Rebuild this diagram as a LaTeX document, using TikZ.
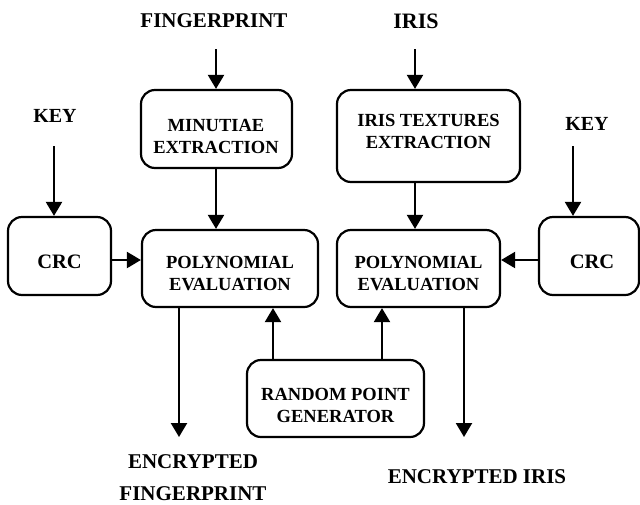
\documentclass[tikz,border=0pt]{standalone}
\usepackage{fontspec}
\setmainfont{Liberation Serif}
\usetikzlibrary{arrows.meta}
\tikzset{
  box/.style={draw, line width=2.2pt, rounded corners=14pt, inner sep=0pt},
  arr/.style={line width=2.2pt, -{Triangle[length=14pt,width=16pt]}},
  lbl/.style={font=\bfseries\fontsize{21}{32}\selectfont, inner sep=0pt, align=center},
  btxt/.style={font=\bfseries\fontsize{18.5}{22}\selectfont, inner sep=0pt, align=center},
}
\begin{document}
\begin{tikzpicture}[x=1pt,y=-1pt]
\useasboundingbox (0,0) rectangle (640,504);
% boxes
\node[box, minimum width=151pt, minimum height=78pt] (mint) at (216.5,129) {};
\node[box, minimum width=183pt, minimum height=92pt] (iris) at (428.5,136) {};
\node[box, minimum width=103pt, minimum height=78pt] (crcL) at (59.5,256) {};
\node[box, minimum width=176pt, minimum height=77pt] (polyL) at (230,268.5) {};
\node[box, minimum width=163pt, minimum height=77pt] (polyR) at (418.5,268.5) {};
\node[box, minimum width=100pt, minimum height=78pt] (crcR) at (589,256) {};
\node[box, minimum width=177pt, minimum height=77pt] (rpg) at (335.5,398.5) {};
% box texts
\node[btxt] (tmint) at (216,136) {MINUTIAE\\EXTRACTION};
\node[btxt] (tiris) at (428.5,131) {IRIS TEXTURES\\EXTRACTION};
\node[btxt] (tpolyL) at (230,273.5) {POLYNOMIAL\\EVALUATION};
\node[btxt] (tpolyR) at (418.5,273.5) {POLYNOMIAL\\EVALUATION};
\node[btxt] (trpg) at (335.5,405) {RANDOM POINT\\GENERATOR};
\node[lbl, font=\bfseries\fontsize{20.5}{24}\selectfont] (tcrcL) at (59.5,262) {CRC};
\node[lbl, font=\bfseries\fontsize{20.5}{24}\selectfont] (tcrcR) at (592,262) {CRC};
% outer labels
\node[lbl] (fp) at (214,21) {FINGERPRINT};
\node[lbl, font=\bfseries\fontsize{22}{26}\selectfont] (ir) at (416,21) {IRIS};
\node[lbl, font=\bfseries\fontsize{20}{24}\selectfont] (keyL) at (55,115.5) {KEY};
\node[lbl, font=\bfseries\fontsize{20}{24}\selectfont] (keyR) at (587,123.5) {KEY};
\node[lbl] (encF) at (193,478) {ENCRYPTED\\FINGERPRINT};
\node[lbl] (encI) at (477,477) {ENCRYPTED IRIS};
% arrow endpoints
\coordinate (fpin) at (216,49);
\coordinate (irin) at (415,49);
\coordinate (keyLin) at (54,146);
\coordinate (keyRin) at (573,146);
\coordinate (outL) at (179,437);
\coordinate (outR) at (464,437);
% connectors
\draw[arr] (fpin) -- (fpin |- mint.north);
\draw[arr] (irin) -- (irin |- iris.north);
\draw[arr] (keyLin) -- (keyLin |- crcL.north);
\draw[arr] (keyRin) -- (keyRin |- crcR.north);
\draw[arr] (mint.south -| fpin) -- (fpin |- polyL.north);
\draw[arr] (iris.south -| irin) -- (irin |- polyR.north);
\draw[arr] (crcL.east |- 0,260) -- (polyL.west |- 0,260);
\draw[arr] (crcR.west |- 0,260) -- (polyR.east |- 0,260);
\draw[arr] (rpg.north -| 273,0) -- (polyL.south -| 273,0);
\draw[arr] (rpg.north -| 382,0) -- (polyR.south -| 382,0);
\draw[arr] (polyL.south -| outL) -- (outL);
\draw[arr] (polyR.south -| outR) -- (outR);
\end{tikzpicture}
\end{document}
